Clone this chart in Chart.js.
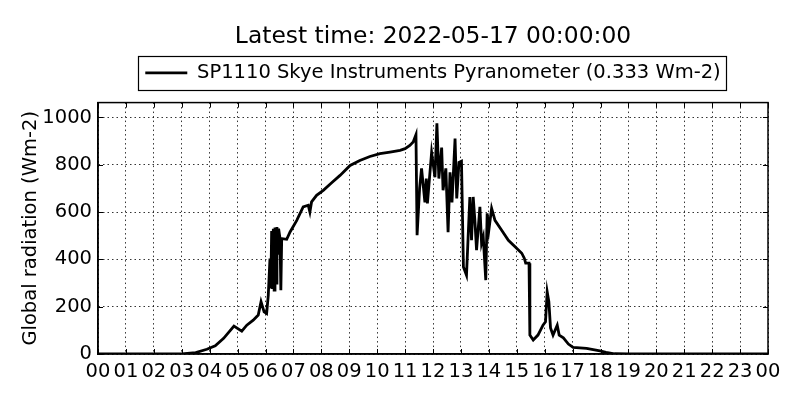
<!DOCTYPE html>
<html>
<head>
<meta charset="utf-8">
<script src="https://cdn.jsdelivr.net/npm/chart.js@4.4.1/dist/chart.umd.min.js"></script>
<style>
html,body{margin:0;padding:0;background:#fff;}
#holder{width:800px;height:400px;}
</style>
</head>
<body>
<div id="holder"><canvas id="chart-area"></canvas></div>
<script>
// data (hour of day, Wm-2)
var hours = [0, 3.0, 3.5, 3.9, 4.2, 4.5, 4.87, 5.15, 5.33, 5.56, 5.74, 5.84, 5.95, 6.04, 6.10, 6.16, 6.19, 6.22, 6.25,
    6.28, 6.31, 6.34, 6.38, 6.41, 6.44, 6.47, 6.52, 6.55, 6.58, 6.76, 6.88, 7.12, 7.35, 7.53, 7.59, 7.65, 7.83, 8.07,
    8.37, 8.67, 9.03, 9.38, 9.74, 10.10, 10.46, 10.82, 11.00, 11.17, 11.29, 11.39, 11.43, 11.52, 11.59, 11.71, 11.76,
    11.80, 11.95, 12.07, 12.14, 12.21, 12.31, 12.36, 12.46, 12.54, 12.61, 12.68, 12.79, 12.85, 12.93, 13.02, 13.09,
    13.20, 13.32, 13.38, 13.44, 13.50, 13.56, 13.68, 13.74, 13.80, 13.89, 13.94, 14.00, 14.10, 14.22, 14.46, 14.70,
    14.94, 15.18, 15.27, 15.32, 15.44, 15.47, 15.59, 15.76, 15.94, 16.03, 16.09, 16.15, 16.21, 16.30, 16.45, 16.52,
    16.67, 16.85, 17.02, 17.50, 17.98, 18.20, 18.50, 19.0, 24.0];
var radiation = [0, 0, 6, 20, 35, 66, 118, 97, 122, 143, 165, 221, 178, 171, 249, 404, 277, 520, 275,
    530, 270, 535, 300, 537, 420, 530, 488, 270, 488, 485, 516, 565, 622, 629, 600, 643, 671, 692,
    724, 755, 797, 818, 835, 847, 854, 861, 868, 882, 896, 927, 502, 700, 785, 641, 742,
    637, 852, 747, 975, 742, 873, 692, 785, 515, 768, 641, 911, 658, 810, 815, 368,
    333, 664, 481, 664, 565, 439, 622, 468, 495, 312, 595, 523, 616, 565, 523, 481,
    453, 426, 405, 384, 384, 80, 59, 80, 122, 136, 263, 221, 110, 80, 122, 80,
    68, 42, 28, 24, 13, 7, 1, 0, 0];
var yTicks = [0, 200, 400, 600, 800, 1000];
var seriesName = "SP1110 Skye Instruments Pyranometer (0.333 Wm-2)";
var titleText = "Latest time: 2022-05-17 00:00:00";

var points = [];
for (var i = 0; i < hours.length; i++) {
    points.push({x: hours[i], y: radiation[i]});
}

function pad2(n) {
    n = Math.round(n) % 24;
    return (n < 10 ? "0" : "") + n;
}

// frame round the plot, inward tick marks and a box round the legend
var framePlugin = {
    id: 'frame',
    beforeInit: function(chart) {
        // leave some room under the legend
        var origFit = chart.legend.fit;
        chart.legend.fit = function() {
            origFit.call(this);
            this.height += 10;
        };
    },
    afterDraw: function(chart) {
        var ctx = chart.ctx, a = chart.chartArea;
        var xs = chart.scales.x, ys = chart.scales.y;
        ctx.save();
        ctx.strokeStyle = '#000';
        ctx.lineWidth = 1;
        ctx.beginPath();
        for (var h = 0; h <= 24; h++) {
            var px = Math.round(xs.getPixelForValue(h)) + 0.5;
            ctx.moveTo(px, a.bottom); ctx.lineTo(px, a.bottom - 5);
            ctx.moveTo(px, a.top); ctx.lineTo(px, a.top + 5);
        }
        yTicks.forEach(function(v) {
            var py = Math.round(ys.getPixelForValue(v)) + 0.5;
            ctx.moveTo(a.left, py); ctx.lineTo(a.left + 5, py);
            ctx.moveTo(a.right, py); ctx.lineTo(a.right - 5, py);
        });
        ctx.stroke();
        ctx.lineWidth = 1.5;
        ctx.strokeRect(a.left, a.top, a.right - a.left, a.bottom - a.top);
        var hb = chart.legend.legendHitBoxes[0];
        if (hb) {
            ctx.lineWidth = 1.2;
            var cy = hb.top + hb.height / 2;
            ctx.strokeRect(Math.round(hb.left - 7) + 0.5, Math.round(cy - 17) + 0.5, Math.round(hb.width + 13), 34);
        }
        ctx.restore();
    }
};

var ctx = document.getElementById('chart-area').getContext('2d');
var config = {
    type: 'line',
    data: {
        datasets: [{
            label: seriesName,
            data: points,
            borderColor: '#000',
            backgroundColor: '#000',
            borderWidth: 2.8,
            pointRadius: 0,
            tension: 0,
            fill: false
        }]
    },
    options: {
        responsive: true,
        maintainAspectRatio: false,
        animation: false,
        layout: {padding: {top: 0, right: 32, bottom: 0, left: 0}},
        plugins: {
            title: {
                display: true,
                text: titleText,
                color: '#000',
                fullSize: false,
                font: {family: 'DejaVu Sans', size: 23.4, weight: 'normal'},
                padding: {top: 23, bottom: 0}
            },
            legend: {
                display: true,
                fullSize: false,
                labels: {
                    color: '#000',
                    font: {family: 'DejaVu Sans', size: 19.5},
                    usePointStyle: true,
                    pointStyle: 'line',
                    pointStyleWidth: 42,
                    padding: 12
                }
            },
            tooltip: {enabled: false}
        },
        scales: {
            x: {
                type: 'linear',
                min: 0,
                max: 24,
                afterFit: function(scale) { scale.height = 46; },
                ticks: {
                    stepSize: 1,
                    autoSkip: false,
                    maxRotation: 0,
                    padding: 6,
                    color: '#000',
                    font: {family: 'DejaVu Sans', size: 19.5},
                    callback: function(v) { return pad2(v); }
                },
                grid: {color: '#000', lineWidth: 0.8, drawTicks: false},
                border: {display: true, color: '#000', width: 1.5, dash: [1.5, 3]}
            },
            y: {
                min: 0,
                max: 1063,
                afterFit: function(scale) { scale.width = 98; },
                afterBuildTicks: function(scale) {
                    scale.ticks = yTicks.map(function(v) { return {value: v}; });
                },
                ticks: {
                    padding: 6,
                    color: '#000',
                    font: {family: 'DejaVu Sans', size: 19.5},
                    callback: function(v) { return String(v); }
                },
                title: {
                    display: true,
                    text: 'Global radiation (Wm-2)',
                    color: '#000',
                    font: {family: 'DejaVu Sans', size: 19.5},
                    padding: {top: 19, bottom: 0}
                },
                grid: {color: '#000', lineWidth: 0.8, drawTicks: false},
                border: {display: true, color: '#000', width: 1.5, dash: [1.5, 3]}
            }
        }
    },
    plugins: [framePlugin]
};
var myChart = new Chart(ctx, config);
</script>
</body>
</html>
